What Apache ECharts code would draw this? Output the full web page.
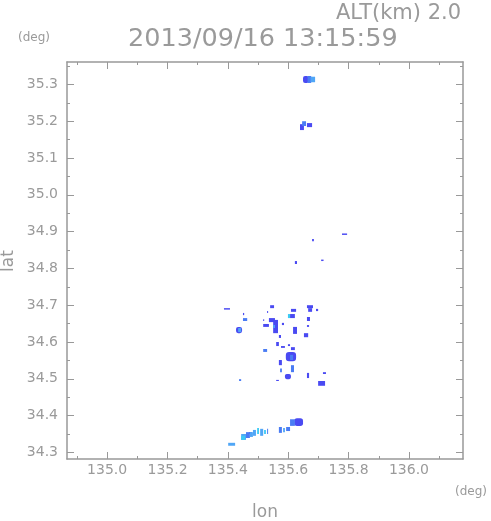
<!DOCTYPE html>
<html>
<head>
<meta charset="utf-8">
<script src="https://cdn.jsdelivr.net/npm/echarts@6/dist/echarts.min.js"></script>
<style>
html,body{margin:0;padding:0;background:#fff;}
#chart{width:491px;height:521px;}
</style>
</head>
<body>
<div id="chart"></div>
<script>
// Axis ranges and tick labels
const lonRange = [134.867, 136.179];
const latRange = [34.282, 35.361];
const lonMajorTicks = [135.0, 135.2, 135.4, 135.6, 135.8, 136.0];
const lonMinorTicks = [134.9, 135.1, 135.3, 135.5, 135.7, 135.9, 136.1];
const latMajorTicks = [34.3, 34.4, 34.5, 34.6, 34.7, 34.8, 34.9, 35.0, 35.1, 35.2, 35.3];
const latMinorTicks = [34.35, 34.45, 34.55, 34.65, 34.75, 34.85, 34.95, 35.05, 35.15, 35.25, 35.35];

// Echo regions: [lonWest, latSouth, lonEast, latNorth]
const darkEchoes = [
  [135.649, 35.304, 135.668, 35.323],
  [135.639, 35.176, 135.652, 35.192],
  [135.662, 35.184, 135.679, 35.195],
  [135.679, 34.874, 135.685, 34.880],
  [135.622, 34.812, 135.629, 34.820],
  [135.709, 34.820, 135.717, 34.824],
  [135.778, 34.891, 135.795, 34.895],
  [135.387, 34.688, 135.407, 34.692],
  [135.540, 34.692, 135.553, 34.700],
  [135.662, 34.692, 135.682, 34.700],
  [135.666, 34.682, 135.679, 34.692],
  [135.692, 34.684, 135.699, 34.690],
  [135.609, 34.682, 135.626, 34.690],
  [135.450, 34.673, 135.454, 34.679],
  [135.530, 34.679, 135.533, 34.684],
  [135.606, 34.665, 135.622, 34.676],
  [135.536, 34.654, 135.556, 34.665],
  [135.517, 34.657, 135.520, 34.662],
  [135.550, 34.624, 135.566, 34.660],
  [135.517, 34.641, 135.536, 34.649],
  [135.662, 34.657, 135.672, 34.668],
  [135.427, 34.624, 135.447, 34.641],
  [135.579, 34.646, 135.586, 34.652],
  [135.616, 34.622, 135.629, 34.641],
  [135.652, 34.613, 135.666, 34.624],
  [135.662, 34.641, 135.669, 34.646],
  [135.569, 34.611, 135.576, 34.619],
  [135.560, 34.589, 135.569, 34.600],
  [135.576, 34.584, 135.589, 34.589],
  [135.599, 34.589, 135.606, 34.594],
  [135.609, 34.578, 135.622, 34.586],
  [135.592, 34.548, 135.626, 34.573],
  [135.569, 34.537, 135.579, 34.551],
  [135.589, 34.499, 135.609, 34.513],
  [135.560, 34.494, 135.569, 34.497],
  [135.662, 34.502, 135.669, 34.516],
  [135.715, 34.513, 135.725, 34.518],
  [135.699, 34.481, 135.722, 34.494],
  [135.620, 34.372, 135.649, 34.393],
  [135.470, 34.350, 135.480, 34.355]
];
const mediumEchoes = [
  [135.664, 35.304, 135.676, 35.323],
  [135.646, 35.187, 135.659, 35.200],
  [135.450, 34.657, 135.464, 34.665],
  [135.517, 34.573, 135.530, 34.581],
  [135.606, 34.551, 135.616, 34.565],
  [135.609, 34.518, 135.619, 34.537],
  [135.573, 34.518, 135.579, 34.528],
  [135.437, 34.494, 135.444, 34.499],
  [135.606, 34.372, 135.622, 34.390],
  [135.569, 34.353, 135.579, 34.369],
  [135.593, 34.358, 135.606, 34.369],
  [135.530, 34.350, 135.533, 34.364],
  [135.460, 34.339, 135.473, 34.355]
];
const lightEchoes = [
  [135.674, 35.306, 135.689, 35.321],
  [135.550, 34.638, 135.556, 34.646],
  [135.434, 34.627, 135.444, 34.638],
  [135.583, 34.355, 135.589, 34.366],
  [135.483, 34.345, 135.493, 34.361],
  [135.507, 34.345, 135.517, 34.364],
  [135.444, 34.334, 135.460, 34.350],
  [135.473, 34.342, 135.483, 34.355],
  [135.401, 34.318, 135.424, 34.326]
];
const cyanEchoes = [
  [135.599, 34.665, 135.606, 34.676],
  [135.497, 34.350, 135.503, 34.366],
  [135.520, 34.350, 135.526, 34.361],
  [135.444, 34.334, 135.457, 34.345]
];

const textColor = '#9a9a9a';
const lineColor = '#999';
const font = 'DejaVu Sans';

function renderBox(params, api) {
  const p0 = api.coord([api.value(0), api.value(3)]);
  const p1 = api.coord([api.value(2), api.value(1)]);
  const w = Math.max(1, p1[0] - p0[0]);
  const h = Math.max(1, p1[1] - p0[1]);
  const r = Math.min(w, h) >= 5 ? Math.min(w, h) * 0.35 : 0;
  return {
    type: 'rect',
    shape: { x: p0[0], y: p0[1], width: w, height: h, r: r },
    style: { fill: api.visual('color') }
  };
}
function echoSeries(name, data, color) {
  return {
    name: name, type: 'custom', xAxisIndex: 0, yAxisIndex: 0,
    renderItem: renderBox, data: data, itemStyle: { color: color },
    encode: { x: [0, 2], y: [1, 3] }, silent: true, animation: false
  };
}
function axisSet(range, major, minor, mainPos, otherPos, labelMargin) {
  const base = { type: 'value', min: range[0], max: range[1], splitLine: { show: false } };
  const tl = { color: lineColor, width: 1 };
  return [
    Object.assign({}, base, {
      position: mainPos,
      axisLine: { show: true, lineStyle: { color: lineColor, width: 1.5 } },
      axisTick: { show: true, inside: true, length: 7, customValues: major, lineStyle: tl },
      axisLabel: { show: true, customValues: major, color: textColor, fontFamily: font, fontSize: 14, margin: labelMargin,
        formatter: function (v) { return Number(v).toFixed(1); } }
    }),
    Object.assign({}, base, {
      position: mainPos,
      axisLine: { show: false },
      axisTick: { show: true, inside: true, length: 3, customValues: minor, lineStyle: tl },
      axisLabel: { show: false, customValues: minor }
    }),
    Object.assign({}, base, {
      position: otherPos,
      axisLine: { show: true, lineStyle: { color: lineColor, width: 1.5 } },
      axisTick: { show: true, inside: true, length: 7, customValues: major, lineStyle: tl },
      axisLabel: { show: false, customValues: major }
    }),
    Object.assign({}, base, {
      position: otherPos,
      axisLine: { show: false },
      axisTick: { show: true, inside: true, length: 3, customValues: minor, lineStyle: tl },
      axisLabel: { show: false, customValues: minor }
    })
  ];
}

const chart = echarts.init(document.getElementById('chart'), null, { renderer: 'canvas' });
chart.setOption({
  backgroundColor: '#fff',
  animation: false,
  grid: { left: 67, top: 62, width: 396, height: 397, containLabel: false },
  xAxis: axisSet(lonRange, lonMajorTicks, lonMinorTicks, 'bottom', 'top', 4),
  yAxis: axisSet(latRange, latMajorTicks, latMinorTicks, 'left', 'right', 9),
  series: [
    echoSeries('dark', darkEchoes, '#4a4af2'),
    echoSeries('medium', mediumEchoes, '#4a7cf4'),
    echoSeries('light', lightEchoes, '#50a6f6'),
    echoSeries('cyan', cyanEchoes, '#3ccaf4')
  ],
  graphic: [
    { type: 'text', left: 336, top: 3, style: { text: 'ALT(km) 2.0', fill: textColor, font: '21px "DejaVu Sans"' } },
    { type: 'text', left: 128, top: 26, style: { text: '2013/09/16 13:15:59', fill: textColor, font: '25.5px "DejaVu Sans"' } },
    { type: 'text', left: 18, top: 32, style: { text: '(deg)', fill: textColor, font: '12px "DejaVu Sans"' } },
    { type: 'text', x: 9, y: 261, rotation: Math.PI / 2, style: { text: 'lat', fill: textColor, font: '17px "DejaVu Sans"', align: 'center', verticalAlign: 'middle' } },
    { type: 'text', x: 265, y: 513, style: { text: 'lon', fill: textColor, font: '17px "DejaVu Sans"', align: 'center', verticalAlign: 'middle' } },
    { type: 'text', x: 471, y: 492, style: { text: '(deg)', fill: textColor, font: '12px "DejaVu Sans"', align: 'center', verticalAlign: 'middle' } }
  ]
});
</script>
</body>
</html>
